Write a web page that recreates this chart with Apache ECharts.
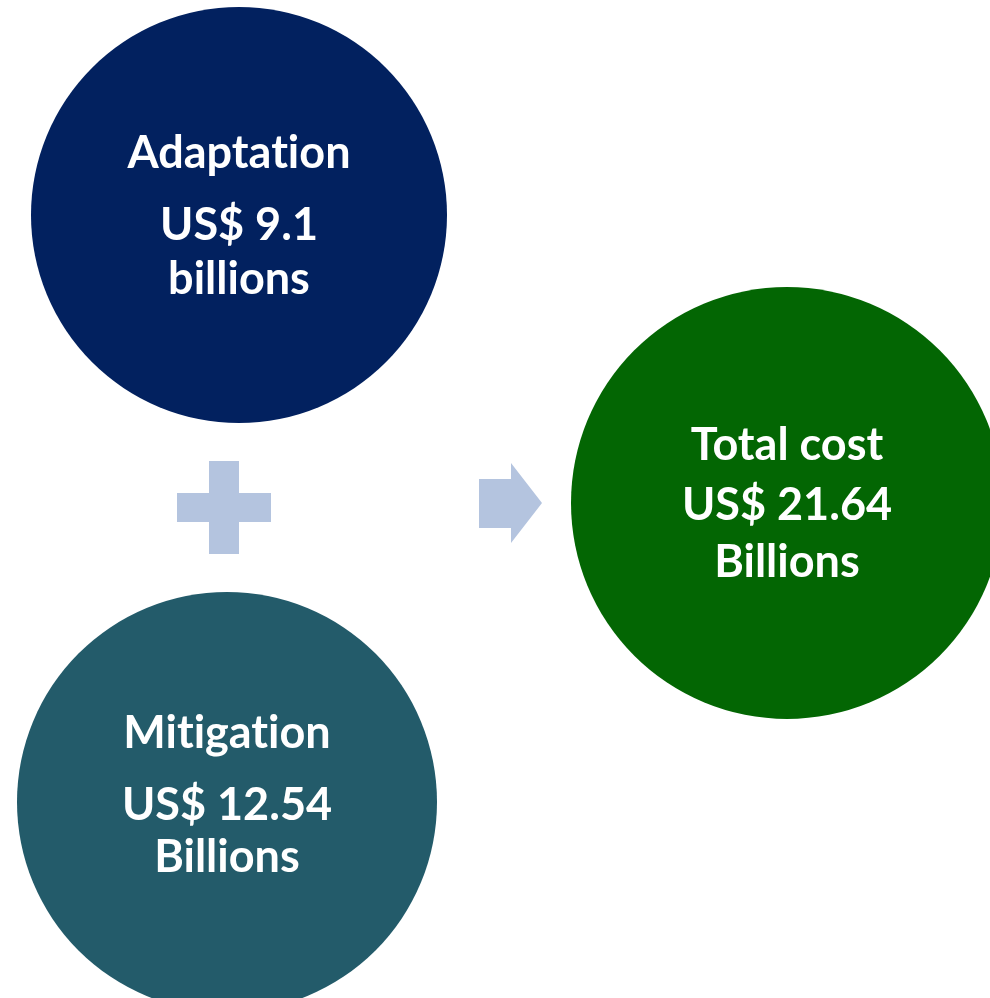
<!DOCTYPE html>
<html>
<head>
<meta charset="utf-8">
<style>
  html, body { margin: 0; padding: 0; background: #fff; }
  #main { width: 990px; height: 998px; }
</style>
<script src="https://cdn.jsdelivr.net/npm/echarts@6/dist/echarts.min.js"></script>
</head>
<body>
<div id="main"></div>
<script>
// data
var names = ['Adaptation', 'Mitigation', 'Total cost'];
var values = [9.1, 12.54, 21.64];
var units = ['billions', 'Billions', 'Billions'];
var colors = ['#02215f', '#235b6a', '#036603'];

var myChart = echarts.init(document.getElementById('main'));

// circle layout: cx, cy, r, and text baselines for the three lines
var layout = [
  { cx: 239, cy: 215, r: 208, lines: [166, 238, 292] },
  { cx: 227, cy: 802, r: 210, lines: [746, 818, 870] },
  { cx: 787, cy: 503, r: 216, lines: [458, 518, 575] }
];

var FS = 45;
var font = 'bold ' + FS + 'px Lato, "Open Sans", sans-serif';

// Lato joins "ti" into a ligature; break it with a zero width non-joiner
function noLig(s) {
  return String(s).replace(/ti/g, 't\u200Ci');
}

function textLine(str, x, base) {
  return {
    type: 'text',
    x: x,
    y: base,
    style: {
      text: noLig(str),
      fill: '#fff',
      font: font,
      align: 'center',
      verticalAlign: 'bottom'
    },
    z: 10
  };
}

var elements = [];
names.forEach(function (n, i) {
  var L = layout[i];
  elements.push({
    type: 'circle',
    shape: { cx: L.cx, cy: L.cy, r: L.r },
    style: { fill: colors[i] },
    z: 1
  });
  var lines = [n, 'US$ ' + values[i], units[i]];
  lines.forEach(function (s, k) {
    elements.push(textLine(s, L.cx, L.lines[k] + 10));
  });
});

// plus sign
var plusColor = '#b4c4df';
elements.push({ type: 'rect', shape: { x: 177, y: 493, width: 94, height: 29 }, style: { fill: plusColor } });
elements.push({ type: 'rect', shape: { x: 209, y: 461, width: 30, height: 93 }, style: { fill: plusColor } });

// arrow
elements.push({
  type: 'polygon',
  shape: { points: [[479, 479], [511, 479], [511, 463], [542, 503], [511, 543], [511, 528], [479, 528]] },
  style: { fill: plusColor }
});

var option = {
  backgroundColor: '#fff',
  graphic: { elements: elements }
};
myChart.setOption(option);
</script>
</body>
</html>
